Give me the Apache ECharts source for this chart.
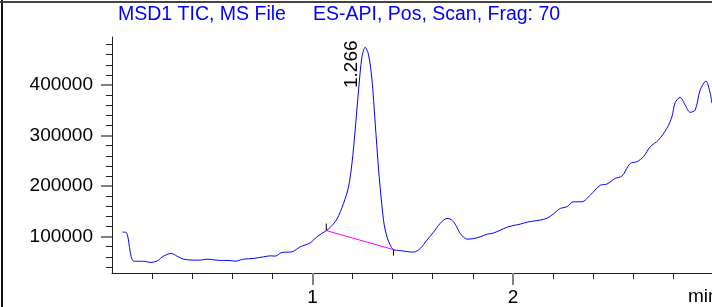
<!DOCTYPE html>
<html>
<head>
<meta charset="utf-8">
<script src="https://cdn.jsdelivr.net/npm/echarts@6/dist/echarts.min.js"></script>
<style>
  html, body { margin: 0; padding: 0; background: #fff; }
  #chart { width: 712px; height: 307px; }
</style>
</head>
<body>
<div id="chart"></div>
<script>
// TIC trace, retention time (min) vs abundance
var rtMin = [0.053, 0.071, 0.108, 0.166, 0.191, 0.224, 0.257, 0.296, 0.324, 0.357,
  0.407, 0.440, 0.474, 0.507, 0.540, 0.574, 0.615, 0.656, 0.706, 0.756,
  0.790, 0.814, 0.848, 0.898, 0.939, 0.989, 1.022, 1.069, 1.089, 1.122,
  1.155, 1.180, 1.197, 1.213, 1.230, 1.247, 1.263, 1.280, 1.297, 1.313,
  1.330, 1.347, 1.358, 1.372, 1.388, 1.404, 1.438, 1.473, 1.504, 1.538,
  1.571, 1.604, 1.637, 1.671, 1.692, 1.712, 1.737, 1.771, 1.802, 1.837,
  1.872, 1.902, 1.937, 1.972, 2.001, 2.036, 2.071, 2.101, 2.136, 2.171,
  2.201, 2.236, 2.269, 2.302, 2.344, 2.386, 2.435, 2.469, 2.510, 2.544,
  2.585, 2.618, 2.651, 2.685, 2.726, 2.768, 2.793, 2.809, 2.834, 2.859,
  2.884, 2.909, 2.934, 2.963, 2.984, 2.993];
var tic = [108900, 108300, 51500, 50900, 48900, 51500, 61400, 66700, 61400, 55400,
  53500, 53500, 55400, 54100, 52900, 52900, 51500, 55400, 56800, 60000,
  62000, 61400, 68700, 69900, 79800, 87700, 99600, 111900, 118200, 134700,
  165700, 198600, 244900, 310900, 390100, 456000, 474700, 459400, 409900, 324100,
  231700, 159000, 122800, 99000, 83200, 74300, 72300, 70300, 69300, 76600,
  93100, 108900, 126100, 136000, 133700, 124700, 106300, 95000, 96000, 99600,
  104900, 106900, 112900, 118800, 121800, 124700, 128700, 130700, 132700, 136600,
  144600, 155800, 159000, 168900, 168900, 182200, 201400, 204000, 215200, 219800,
  244900, 248100, 258000, 277800, 291100, 314300, 337200, 364900, 375600, 360400,
  345900, 350500, 390100, 407900, 383600, 363800];

// integration baseline of the main peak
var baseRt = [1.069, 1.404];
var baseTic = [111900, 74300];
var startTickTic = [111900, 125800];
var endTickTic = [74300, 62400];

// peak annotation
var peakRt = 1.263;
var peakTic = 474700;
var peakLabel = '1.266';

// axes
var xMin = 0, xMax = 2.993;
var yMin = 28000, yMax = 495000;
var xMajorTicks = [1, 2];
var xMinorTicks = [0.2, 0.4, 0.6, 0.8, 1.2, 1.4, 1.6, 1.8, 2.2, 2.4, 2.6, 2.8];
var yMajorTicks = [100000, 200000, 300000, 400000];
var yMinorTicks = [40000, 60000, 80000, 120000, 140000, 160000, 180000, 220000, 240000,
  260000, 280000, 320000, 340000, 360000, 380000, 420000, 440000, 460000, 480000];

var titleText = 'MSD1 TIC, MS File     ES-API, Pos, Scan, Frag: 70';
var font = 'Liberation Sans, Arial, sans-serif';

function pairs(xs, ys) {
  return xs.map(function (x, i) { return [x, ys[i]]; });
}

var chart = echarts.init(document.getElementById('chart'), null, { renderer: 'canvas' });
var frame = [
  { id: 'bl', type: 'line', shape: { x1: 2, y1: 0, x2: 2, y2: 307 }, style: { stroke: '#111', lineWidth: 2 } },
  { id: 'bt', type: 'line', shape: { x1: 0, y1: 2, x2: 712, y2: 2 }, style: { stroke: '#444', lineWidth: 2 } },
  { id: 'unit', type: 'text', left: 688, top: 287, style: { text: 'min', fill: '#000', font: '19px ' + font } }
];
var option = {
  animation: false,
  backgroundColor: '#fff',
  title: {
    text: titleText,
    left: 118,
    top: 5,
    padding: 0,
    textStyle: { color: '#0000ff', fontSize: 19.5, fontWeight: 'normal', fontFamily: font, lineHeight: 20 }
  },
  grid: { left: 112, right: 0, top: 37, bottom: 34 },
  xAxis: [
    {
      type: 'value', min: xMin, max: xMax, position: 'bottom',
      axisLine: { show: true, onZero: false, lineStyle: { color: '#222', width: 1 } },
      axisTick: { show: true, customValues: xMajorTicks, length: 12, lineStyle: { color: '#808080', width: 2 } },
      axisLabel: { customValues: xMajorTicks, formatter: function (v) { return String(v); },
        fontSize: 19, color: '#000', margin: 15, fontFamily: font },
      splitLine: { show: false }
    },
    {
      type: 'value', min: xMin, max: xMax, position: 'bottom',
      axisLine: { show: false, onZero: false },
      axisTick: { show: true, customValues: xMinorTicks, length: 6, lineStyle: { color: '#222', width: 1 } },
      axisLabel: { show: false },
      splitLine: { show: false }
    }
  ],
  yAxis: [
    {
      type: 'value', min: yMin, max: yMax, position: 'left',
      axisLine: { show: true, onZero: false, lineStyle: { color: '#222', width: 1 } },
      axisTick: { show: true, customValues: yMajorTicks, length: 11, lineStyle: { color: '#808080', width: 2 } },
      axisLabel: { customValues: yMajorTicks, formatter: function (v) { return String(v); },
        fontSize: 19, color: '#000', margin: 19, fontFamily: font },
      splitLine: { show: false }
    },
    {
      type: 'value', min: yMin, max: yMax, position: 'left',
      axisLine: { show: false, onZero: false },
      axisTick: { show: true, customValues: yMinorTicks, length: 6, lineStyle: { color: '#222', width: 1 } },
      axisLabel: { show: false },
      splitLine: { show: false }
    }
  ],
  series: [
    {
      type: 'line',
      data: pairs(rtMin, tic),
      showSymbol: false,
      symbol: 'none',
      smooth: 0.3,
      lineStyle: { color: '#0000ff', width: 1 }
    },
    {
      type: 'line',
      data: pairs(baseRt, baseTic),
      symbol: 'none',
      lineStyle: { color: '#ff00ff', width: 1 }
    },
    {
      type: 'line',
      data: pairs([baseRt[0], baseRt[0]], startTickTic),
      symbol: 'none',
      lineStyle: { color: '#000', width: 1 }
    },
    {
      type: 'line',
      data: pairs([baseRt[1], baseRt[1]], endTickTic),
      symbol: 'none',
      lineStyle: { color: '#000', width: 1 }
    }
  ],
  graphic: frame
};
chart.setOption(option);

// peak retention time label, placed from the peak apex through the axes
var apex = chart.convertToPixel({ xAxisIndex: 0, yAxisIndex: 0 }, [peakRt, peakTic]);
chart.setOption({
  graphic: frame.concat([{
    id: 'peakLabel',
    type: 'text',
    x: apex[0] - 13,
    y: apex[1] + 17,
    rotation: Math.PI / 2,
    style: { text: peakLabel, fill: '#000', font: '19px ' + font, align: 'center', verticalAlign: 'middle' }
  }])
});
</script>
</body>
</html>
